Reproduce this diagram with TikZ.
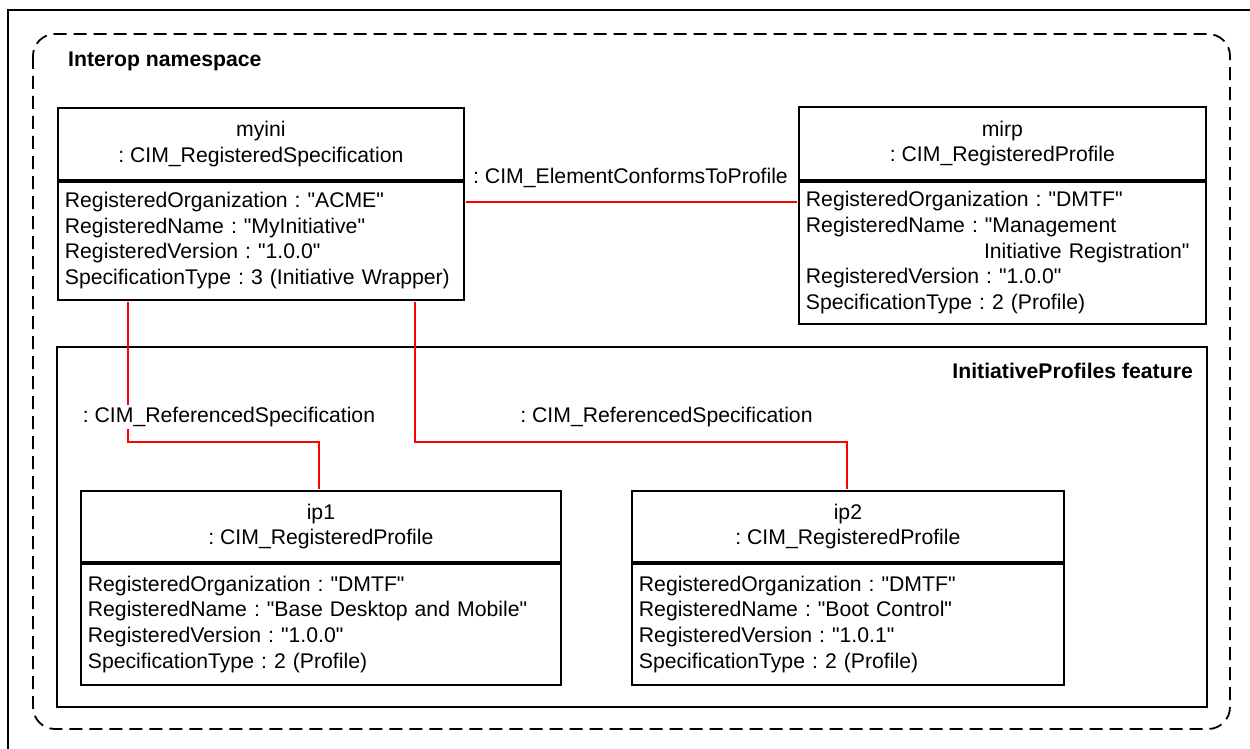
\documentclass[tikz,border=0pt]{standalone}
\usepackage{fontspec}
\setmainfont{Liberation Sans}[Ligatures=TeXOff]
\usetikzlibrary{calc}
\frenchspacing
\newcommand{\fsz}{\fontsize{21.2pt}{25.6pt}\selectfont\frenchspacing}
\begin{document}
\begin{tikzpicture}[x=1pt,y=-1pt,
  box/.style={draw, line width=1.8pt, inner sep=0pt, font=\fsz},
  hdr/.style={box, align=center},
  attr/.style={box, align=left, inner xsep=7pt},
  assoc/.style={draw=red, line width=2pt},
  lbl/.style={font=\fsz, inner sep=2pt},
  ttl/.style={font=\fsz\bfseries, inner sep=0pt},
  pkg/.style={draw, line width=1.8pt, dash pattern=on 13pt off 7pt, rounded corners=22pt}]
\useasboundingbox (0,0) rectangle (1250,749);
% outer frame
\draw[line width=2.5pt] (8,749) -- (8,10) -- (1250,10);
% namespace
\draw[pkg] (33,34) rectangle (1230,729);
\node[ttl, anchor=base west] (tns) at (68,67) {Interop namespace};
% feature box
\node[box, minimum width=1150pt, minimum height=360pt, anchor=north west] (feat) at (56,346) {};
\node[ttl, anchor=base east] (tfeat) at (1193,378) {InitiativeProfiles feature};
% myini
\node[hdr, minimum width=406pt, minimum height=72pt, anchor=north west] (myiniH) at (57,107) {myini\\: CIM\_RegisteredSpecification};
\node[attr, text width=392pt, minimum height=118pt, anchor=north west] (myiniA) at (myiniH.south west) {RegisteredOrganization : "ACME"\\RegisteredName : "MyInitiative"\\RegisteredVersion : "1.0.0"\\SpecificationType : 3 (Initiative Wrapper)};
% mirp
\node[hdr, minimum width=407pt, minimum height=73pt, anchor=north west] (mirpH) at (798,106) {mirp\\: CIM\_RegisteredProfile};
\node[attr, text width=393pt, minimum height=142pt, anchor=north west] (mirpA) at (mirpH.south west) {RegisteredOrganization : "DMTF"\\RegisteredName : "Management\\\mbox{\hphantom{RegisteredName : }\hspace{-1pt}Initiative Registration"}\\RegisteredVersion : "1.0.0"\\SpecificationType : 2 (Profile)};
% ip1
\node[hdr, minimum width=480pt, minimum height=71pt, anchor=north west] (ip1H) at (80,490) {ip1\\: CIM\_RegisteredProfile};
\node[attr, text width=466pt, minimum height=121pt, anchor=north west] (ip1A) at (ip1H.south west) {RegisteredOrganization : "DMTF"\\RegisteredName : "Base Desktop and Mobile"\\RegisteredVersion : "1.0.0"\\SpecificationType : 2 (Profile)};
% ip2
\node[hdr, minimum width=432pt, minimum height=71pt, anchor=north west] (ip2H) at (631,490) {ip2\\: CIM\_RegisteredProfile};
\node[attr, text width=418pt, minimum height=121pt, anchor=north west] (ip2A) at (ip2H.south west) {RegisteredOrganization : "DMTF"\\RegisteredName : "Boot Control"\\RegisteredVersion : "1.0.1"\\SpecificationType : 2 (Profile)};
% connectors
\coordinate (e1) at (463,202);
\coordinate (k1) at (128,442);
\coordinate (k2) at (319,442);
\coordinate (k3) at (415,442);
\coordinate (k4) at (847,442);
\draw[assoc, shorten <=1pt, shorten >=1pt] (myiniA.east |- e1) -- (mirpA.west |- e1);
\draw[assoc, shorten <=1pt, shorten >=1pt] (myiniA.south -| k1) -- (k1) -- (k2) -- (ip1H.north -| k2);
\draw[assoc, shorten <=1pt, shorten >=1pt] (myiniA.south -| k3) -- (k3) -- (k4) -- (ip2H.north -| k4);
% labels
\node[lbl] (lecp) at (630.5,177.5) {: CIM\_ElementConformsToProfile};
\node[lbl, fill=white] (lrs1) at (229,417) {: CIM\_ReferencedSpecification};
\node[lbl] (lrs2) at (666.5,417) {: CIM\_ReferencedSpecification};
\end{tikzpicture}
\end{document}
